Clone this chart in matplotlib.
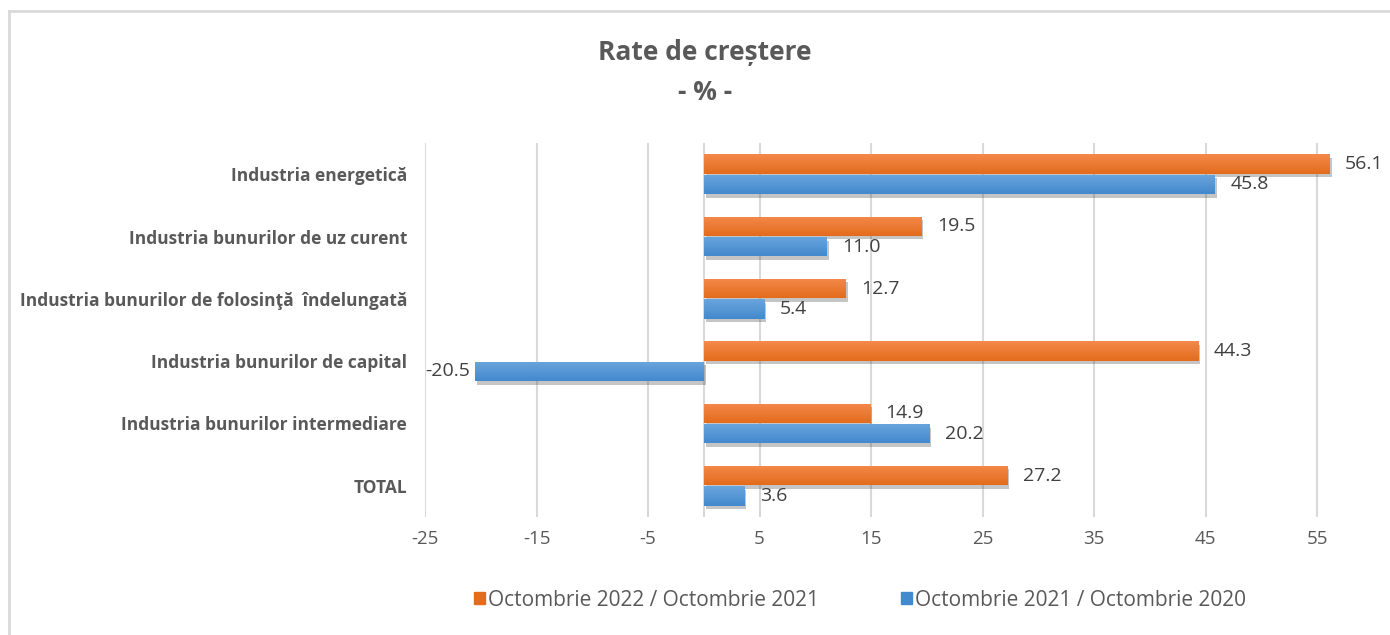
import matplotlib
matplotlib.use("Agg")
import matplotlib.pyplot as plt
import matplotlib.patheffects as pe
from matplotlib.patches import Rectangle
from matplotlib.lines import Line2D
import numpy as np

categories = ["Industria energetică", "Industria bunurilor de uz curent",
              "Industria bunurilor de folosinţă  îndelungată", "Industria bunurilor de capital",
              "Industria bunurilor intermediare", "TOTAL"]
oct22 = [56.1, 19.5, 12.7, 44.3, 14.9, 27.2]
oct21 = [45.8, 11.0, 5.4, -20.5, 20.2, 3.6]
series_names = ["Octombrie 2022 / Octombrie 2021", "Octombrie 2021 / Octombrie 2020"]
xticks = [-25, -15, -5, 5, 15, 25, 35, 45, 55]

FONT = ["Open Sans", "DejaVu Sans"]
plt.rcParams['font.family'] = FONT
TXT = "#595959"

W, H = 1390, 635
fig = plt.figure(figsize=(W/100, H/100), dpi=100)
fig.lines.append(Line2D([9/W, 9/W], [0, 1 - 11/H], transform=fig.transFigure,
                        color="#D9D9D9", linewidth=2))
fig.lines.append(Line2D([9/W, 1], [1 - 11/H, 1 - 11/H], transform=fig.transFigure,
                        color="#D9D9D9", linewidth=2))

ax = fig.add_axes([425/W, 1 - 517/H, (1373-425)/W, (517-143)/H])
ax.set_xlim(-25, 60)
n = len(categories)
y = np.arange(n)
ax.set_ylim(n - 0.5, -0.5)
h = 0.31
off = 0.165

orange = ("#F4894B", "#E36C1C")
blue = ("#6AA5DD", "#4389CD")

def grad_bars(vals, ypos, cols, label):
    bars = ax.barh(ypos, vals, height=h, color=cols[1], label=label, zorder=3,
                   path_effects=[pe.SimplePatchShadow(offset=(1.5, -2.5), shadow_rgbFace="#404040", alpha=0.3), pe.Normal()])
    c1 = np.array(matplotlib.colors.to_rgb(cols[0]))
    c2 = np.array(matplotlib.colors.to_rgb(cols[1]))
    t = np.linspace(0, 1, 50)[:, None]
    img = (c1 * (1 - t) + c2 * t)[:, None, :]
    for b in bars:
        x0, y0, w, hh = b.get_x(), b.get_y(), b.get_width(), b.get_height()
        im = ax.imshow(img, extent=(x0, x0 + w, y0 + hh, y0), aspect="auto", zorder=4,
                       interpolation="bilinear")
        im.set_clip_path(b)
    return bars

grad_bars(oct22, y - off, orange, series_names[0])
grad_bars(oct21, y + off, blue, series_names[1])
ax.set_xlim(-25, 60)
ax.set_ylim(n - 0.5, -0.5)

for vals, yy in ((oct22, y - off), (oct21, y + off)):
    for v, yp in zip(vals, yy):
        if v >= 0:
            ax.text(v + 1.4, yp, f"{v:.1f}", va="center", ha="left", fontsize=14, color="#404040", zorder=5)
        else:
            ax.text(v - 0.45, yp, f"{v:.1f}", va="center", ha="right", fontsize=14, color="#404040", zorder=5)

ax.set_xticks(xticks)
ax.set_xticklabels([str(t) for t in xticks], fontsize=13.5, color=TXT)
ax.set_yticks(y)
ax.set_yticklabels(categories, fontsize=12.5, color=TXT, fontweight="bold")
ax.tick_params(axis="both", length=0)
ax.tick_params(axis="y", pad=13)
ax.tick_params(axis="x", pad=9)
ax.grid(axis="x", color="#D9D9D9", linewidth=1.5, zorder=0)
ax.axvline(0, color="#D9D9D9", linewidth=1.5, zorder=1)
for s in ax.spines.values():
    s.set_visible(False)

fig.text(705/W, 1 - 53/H, "Rate de creștere", ha="center", va="center", fontsize=19,
         fontweight="bold", color=TXT)
fig.text(705/W, 1 - 92/H, "- % -", ha="center", va="center", fontsize=19,
         fontweight="bold", color=TXT)

handles = [Rectangle((0, 0), 1, 1, color=orange[1]), Rectangle((0, 0), 1, 1, color=blue[1])]
fig.legend(handles, series_names, loc="center", bbox_to_anchor=(860/W, 1 - 600/H), ncol=2,
           frameon=False, fontsize=15, labelcolor=TXT, handlelength=0.55, handleheight=0.55,
           handletextpad=0.15, columnspacing=3.9)

fig.savefig("out.png", dpi=100)
